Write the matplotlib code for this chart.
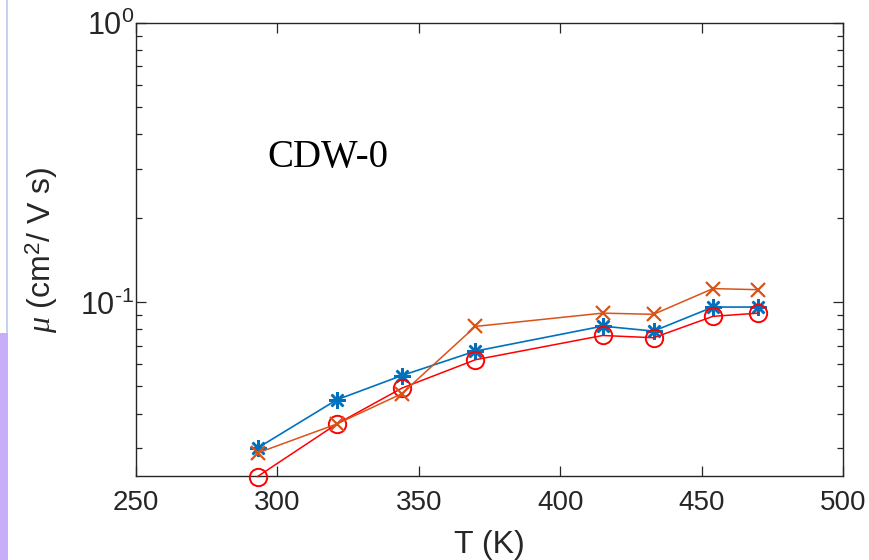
import matplotlib
matplotlib.use("Agg")
import matplotlib.pyplot as plt
from matplotlib.patches import Rectangle
from matplotlib.ticker import LogLocator, NullFormatter, FixedLocator, FuncFormatter
import numpy as np

T = [293, 321, 344, 370, 415, 433, 454, 470]
mu_blue = [0.0301, 0.0448, 0.0547, 0.0669, 0.0822, 0.0789, 0.0962, 0.0962]
mu_orange = [0.0289, 0.0367, 0.0471, 0.0820, 0.0915, 0.0906, 0.1120, 0.1110]
mu_red = [0.0238, 0.0367, 0.0493, 0.0623, 0.0761, 0.0747, 0.0891, 0.0915]
xticks = [250, 300, 350, 400, 450, 500]
label_text = "CDW-0"

plt.rcParams["mathtext.fontset"] = "custom"
plt.rcParams["mathtext.rm"] = "Liberation Sans"
plt.rcParams["mathtext.it"] = "Liberation Serif:italic"
plt.rcParams["axes.unicode_minus"] = False

W, H = 869, 560
fig = plt.figure(figsize=(W / 100, H / 100), dpi=100)
ax = fig.add_axes([136 / W, 1 - 476 / H, (843 - 136) / W, (476 - 23) / H])

dark = "#262626"
ax.plot(T, mu_blue, color="#0072BD", lw=1.2, marker=(8, 2, 0), ms=12,
        mew=1.8, mec="#0072BD", clip_on=False, zorder=3)
ax.plot(T, mu_red, color="#FF0000", lw=1.1, marker="o", ms=12.5,
        mfc="none", mec="#FF0000", mew=1.4, clip_on=False, zorder=4)
ax.plot(T, mu_orange, color="#D95319", lw=1.1, marker="x", ms=10,
        mew=1.6, mec="#D95319", clip_on=False, zorder=5)

ax.set_yscale("log")
ax.set_xlim(250, 500)
ax.set_ylim(0.0239, 1.0)
ax.xaxis.set_major_locator(FixedLocator(xticks))
ax.yaxis.set_major_locator(LogLocator(base=10, numticks=10))


def yfmt(v, p):
    e = int(round(np.log10(v)))
    es = r"\text{-}%d" % (-e) if e < 0 else "%d" % e
    return r"$\mathrm{10^{%s}}$" % es


ax.yaxis.set_major_formatter(FuncFormatter(yfmt))
ax.yaxis.set_minor_locator(LogLocator(base=10, subs=range(2, 10), numticks=20))
ax.yaxis.set_minor_formatter(NullFormatter())

for s in ax.spines.values():
    s.set_color(dark)
    s.set_linewidth(1.0)
ax.tick_params(which="both", direction="in", top=True, right=True,
               color=dark, labelcolor=dark, labelsize=20, width=0.9)
ax.tick_params(axis="y", which="major", labelsize=22, pad=1.5)
ax.tick_params(which="major", length=7)
ax.tick_params(axis="x", which="major", pad=10)
ax.tick_params(which="minor", length=4)
for lbl in ax.get_xticklabels() + ax.get_yticklabels():
    lbl.set_family("Liberation Sans")

ax.set_xlabel("T (K)", fontsize=23, color=dark, family="Liberation Sans", labelpad=10)
ax.set_ylabel(r"$\mathit{\mu}$ (cm$^2$/ V s)", fontsize=23, color=dark,
              family="Liberation Sans", labelpad=14)

ax.text(296.3, 0.305, label_text, fontsize=28, family="Liberation Serif",
        color="black", ha="left", va="baseline", transform=ax.transData)

# left edge strip artefacts
fig.patches.append(Rectangle((0, 0), 8 / W, (H - 333) / H, transform=fig.transFigure,
                             facecolor="#c8aef8", edgecolor="none"))
fig.patches.append(Rectangle((6 / W, (H - 333) / H), 2 / W, 333 / H, transform=fig.transFigure,
                             facecolor="#c4d4f0", edgecolor="none"))

fig.savefig("out.png", dpi=100)
